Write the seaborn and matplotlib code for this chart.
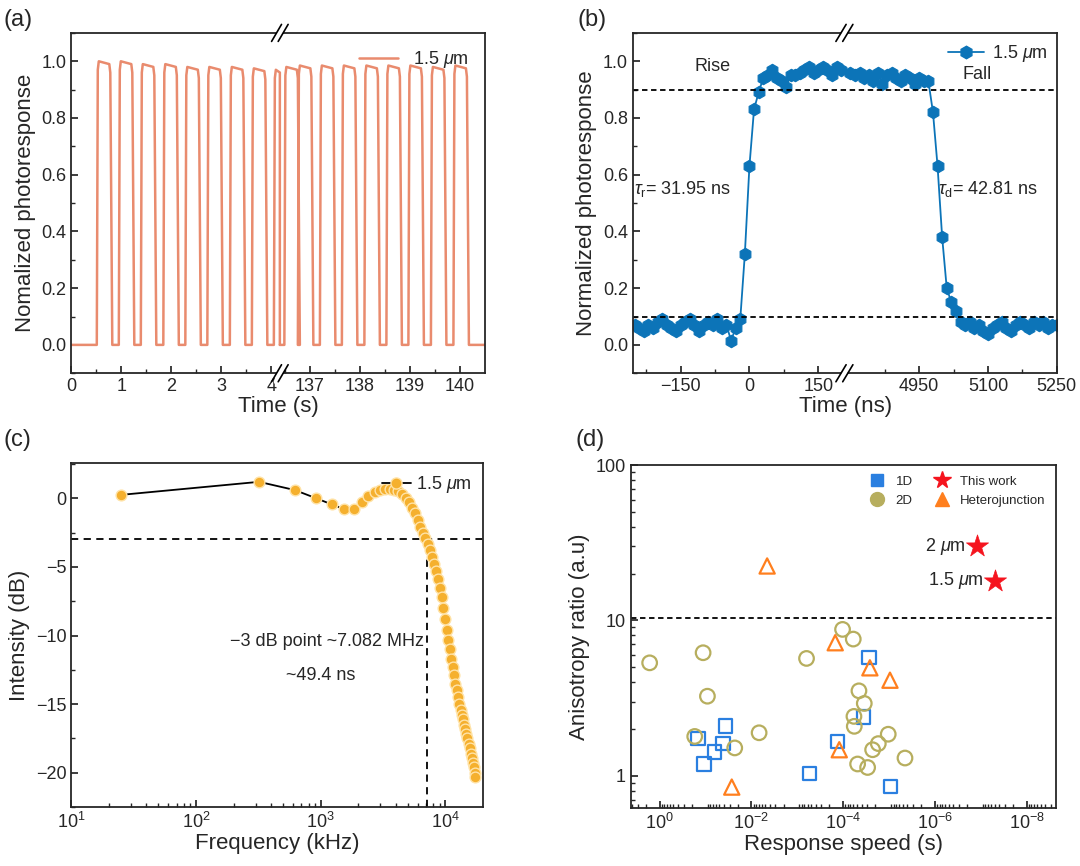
import numpy as np
import pandas as pd
import matplotlib
matplotlib.use("Agg")
import matplotlib.pyplot as plt
import seaborn as sns
from matplotlib.lines import Line2D
from matplotlib.ticker import MultipleLocator, FixedLocator, NullFormatter, LogLocator

# ---------------- data ----------------
# (a) square-wave pulses: start time (s) and amplitude
pulse_start_left = [0.51, 0.95, 1.39, 1.84, 2.28, 2.72, 3.17, 3.61, 4.05]
pulse_amp_left = [1.0, 1.0, 0.99, 0.99, 0.98, 0.98, 0.98, 0.975, 0.97]
pulse_start_right = [136.49, 136.76, 137.20, 137.64, 138.09, 138.53, 138.97, 139.42, 139.87]
pulse_amp_right = [0.98, 0.985, 0.985, 0.985, 0.985, 0.985, 0.985, 0.98, 0.985]

# (b) rise / fall trace
t_left = list(range(-250, 210, 10))
v_left = [0.07, 0.06, 0.05, 0.07, 0.06, 0.08, 0.09, 0.07, 0.06, 0.05, 0.07, 0.08,
          0.09, 0.07, 0.05, 0.07, 0.08, 0.07, 0.09, 0.06, 0.07, 0.015, 0.06,
          0.09, 0.32, 0.63, 0.83, 0.89, 0.94, 0.95, 0.97, 0.94, 0.93, 0.91, 0.95,
          0.95, 0.96, 0.97, 0.98, 0.96, 0.97, 0.98, 0.97, 0.95, 0.98, 0.97]
t_right = list(range(4800, 5260, 10))
v_right = [0.96, 0.95, 0.96, 0.94, 0.95, 0.93, 0.96, 0.92, 0.95, 0.96, 0.94, 0.93,
           0.95, 0.94, 0.92, 0.94, 0.93, 0.93,
           0.82, 0.63, 0.38, 0.20, 0.15, 0.12, 0.08,
           0.07, 0.08, 0.06, 0.07, 0.05, 0.04, 0.06, 0.07, 0.08, 0.06, 0.05, 0.07,
           0.08, 0.07, 0.06, 0.08, 0.07, 0.08, 0.06, 0.07, 0.07]

# (c) frequency response
freq = [25, 320, 620, 920, 1230, 1550, 1850, 2150,
        2400, 2700, 3000, 3300, 3600, 3900, 4200, 4500, 4800, 5100, 5400, 5700,
        6000, 6300, 6600, 6900, 7200, 7500, 7800, 8100, 8400, 8700, 9000, 9300,
        9600, 9900, 10200, 10500, 10800, 11100, 11400, 11700, 12000, 12300, 12600,
        12900, 13200, 13500, 13800, 14100, 14400, 14700, 15000, 15300, 15600,
        15900, 16200, 16500, 16800, 17100, 17400]
intensity = [0.25, 1.2, 0.6, 0.0, -0.45, -0.8, -0.75, -0.3,
             0.2, 0.45, 0.6, 0.65, 0.65, 0.6, 0.5, 0.3, 0.05, -0.3, -0.7, -1.1,
             -1.6, -2.1, -2.5, -2.9, -3.3, -3.8, -4.3, -4.8, -5.3, -5.9, -6.5, -7.2,
             -8.0, -8.8, -9.6, -10.3, -11.0, -11.7, -12.3, -12.9, -13.5, -14.0, -14.5,
             -15.0, -15.4, -15.8, -16.1, -16.5, -16.8, -17.2, -17.5, -17.9, -18.2,
             -18.6, -18.9, -19.3, -19.6, -20.0, -20.3]

# (d) comparison
x_1d = [10**-0.836, 10**-0.967, 10**-1.2, 10**-1.382, 10**-1.433, 10**-3.273,
        10**-3.876, 10**-4.436, 10**-4.56, 10**-5.033]
y_1d = [1.73, 1.19, 1.42, 1.61, 2.09, 1.03, 1.67, 2.39, 5.77, 0.85]
x_2d = [1.65, 0.113, 0.091, 0.172, 10**-1.636, 10**-2.167, 10**-3.2, 10**-3.985,
        10**-4.218, 10**-4.342, 10**-4.458, 10**-4.233, 10**-4.24, 10**-4.313,
        10**-4.531, 10**-4.64, 10**-4.764, 10**-4.98, 10**-5.345]
y_2d = [5.33, 6.19, 3.25, 1.79, 1.51, 1.89, 5.69, 8.75, 7.58, 3.52, 2.92, 2.41,
        2.08, 1.19, 1.13, 1.47, 1.61, 1.85, 1.30]
x_het = [10**-2.342, 10**-1.571, 10**-3.825, 10**-4.58, 10**-5.018, 10**-3.913]
y_het = [22.4, 0.845, 7.18, 4.95, 4.12, 1.47]
x_this = [10**-6.909, 10**-7.309]
y_this = [29.9, 18.0]
this_labels = ["2 $\\mu$m", "1.5 $\\mu$m"]

# ---------------- style ----------------
sns.set_theme(style="ticks")
plt.rcParams["font.family"] = ["Liberation Sans", "DejaVu Sans"]
plt.rcParams["mathtext.fontset"] = "custom"
plt.rcParams["mathtext.it"] = "Liberation Sans:italic"
plt.rcParams["mathtext.rm"] = "Liberation Sans"
plt.rcParams.update({"xtick.direction": "in", "ytick.direction": "in",
                     "xtick.major.size": 5, "ytick.major.size": 5,
                     "xtick.minor.size": 3, "ytick.minor.size": 3,
                     "xtick.labelsize": 13, "ytick.labelsize": 13,
                     "axes.linewidth": 1.3, "axes.labelsize": 16})

fig = plt.figure(figsize=(10.8, 8.66), dpi=100)
ax_a = fig.add_axes([0.066, 0.569, 0.383, 0.393])
ax_b = fig.add_axes([0.586, 0.569, 0.393, 0.393])
ax_c = fig.add_axes([0.066, 0.068, 0.381, 0.397])
ax_d = fig.add_axes([0.584, 0.067, 0.394, 0.396])


def break_marks(ax, xpos):
    for yy in (0, 1):
        ax.plot([xpos - 0.008, xpos + 0.008], [yy - 0.025, yy + 0.025], transform=ax.transAxes,
                color="white", lw=4, clip_on=False, zorder=5)
        for dx in (-0.008, 0.008):
            ax.plot([xpos + dx - 0.012, xpos + dx + 0.012], [yy - 0.025, yy + 0.025],
                    transform=ax.transAxes, color="black", lw=1.2, clip_on=False, zorder=6)


# ---------------- (a) ----------------
col_a = "#E98B6E"
shift_a = 132.23


def wave(starts, amps, t0, t1):
    ts, vs = [t0], [0.0]
    for s, a in zip(starts, amps):
        ts += [s, s + 0.02, s + 0.04, s + 0.25, s + 0.27, s + 0.31]
        vs += [0.0, a * 0.97, a, a * 0.99, a * 0.96, 0.0]
    ts.append(t1)
    vs.append(0.0)
    return np.array(ts), np.array(vs)


ts, vs = wave(pulse_start_left, pulse_amp_left, 0.0, 4.17)
sns.lineplot(x=np.clip(ts, 0, 4.17), y=vs, ax=ax_a, color=col_a, lw=1.8, sort=False, estimator=None)
ts, vs = wave(pulse_start_right, pulse_amp_right, 136.4, 140.5)
sns.lineplot(x=np.clip(ts, 136.4, 140.5) - shift_a, y=vs, ax=ax_a, color=col_a, lw=1.8,
             sort=False, estimator=None)
ax_a.set_xlim(0, 140.5 - shift_a)
ax_a.set_ylim(-0.1, 1.1)
ticks_a = [0, 1, 2, 3, 4, 137 - shift_a, 138 - shift_a, 139 - shift_a, 140 - shift_a]
ax_a.xaxis.set_major_locator(FixedLocator(ticks_a))
ax_a.set_xticklabels(["0", "1", "2", "3", "4", "137", "138", "139", "140"])
ax_a.xaxis.set_minor_locator(FixedLocator([0.5, 1.5, 2.5, 3.5, 136.5 - shift_a, 137.5 - shift_a,
                                           138.5 - shift_a, 139.5 - shift_a]))
ax_a.yaxis.set_major_locator(MultipleLocator(0.2))
ax_a.yaxis.set_minor_locator(MultipleLocator(0.1))
ax_a.set_xlabel("Time (s)", labelpad=1)
ax_a.set_ylabel("Nomalized photoresponse")
ax_a.legend(handles=[Line2D([], [], color=col_a, lw=1.8)], labels=["1.5 $\\mu$m"],
            loc="upper right", frameon=False, fontsize=13, handlelength=2.2)
break_marks(ax_a, 4.17 / (140.5 - shift_a))

# ---------------- (b) ----------------
col_b = "#0C74B8"
shift_b = 4580
df_b = pd.DataFrame({"t": t_left + [t - shift_b for t in t_right], "v": v_left + v_right})
sns.lineplot(data=df_b.iloc[:len(t_left)], x="t", y="v", ax=ax_b, color=col_b, lw=1.3,
             marker="h", markersize=9, markeredgecolor=col_b, estimator=None)
sns.lineplot(data=df_b.iloc[len(t_left):], x="t", y="v", ax=ax_b, color=col_b, lw=1.3,
             marker="h", markersize=9, markeredgecolor=col_b, estimator=None)
ax_b.set_xlim(-254, 5251 - shift_b)
ax_b.set_ylim(-0.1, 1.1)
ax_b.axhline(0.9, color="black", ls="--", lw=1.3, dashes=(3, 2))
ax_b.axhline(0.1, color="black", ls="--", lw=1.3, dashes=(3, 2))
ax_b.xaxis.set_major_locator(FixedLocator([-150, 0, 150, 4950 - shift_b, 5100 - shift_b, 5250 - shift_b]))
ax_b.set_xticklabels(["\u2212150", "0", "150", "4950", "5100", "5250"])
ax_b.xaxis.set_minor_locator(FixedLocator([-225, -75, 75, 4875 - shift_b, 5025 - shift_b, 5175 - shift_b]))
ax_b.yaxis.set_major_locator(MultipleLocator(0.2))
ax_b.yaxis.set_minor_locator(MultipleLocator(0.1))
ax_b.set_xlabel("Time (ns)", labelpad=1)
ax_b.set_ylabel("Normalized photoresponse")
ax_b.text(-80, 0.95, "Rise", fontsize=13, ha="center", va="bottom")
ax_b.text(5045 - shift_b, 0.925, "Fall", fontsize=13, ha="left", va="bottom")
ax_b.text(-252, 0.55, "$\\tau_{\\mathrm{r}}$= 31.95 ns", fontsize=13, va="center")
ax_b.text(4990 - shift_b, 0.55, "$\\tau_{\\mathrm{d}}$= 42.81 ns", fontsize=13, va="center")
ax_b.legend(handles=[Line2D([], [], color=col_b, lw=1.3, marker="h", markersize=9)],
            labels=["1.5 $\\mu$m"], loc="upper right", frameon=False, fontsize=13,
            handlelength=2.0, borderaxespad=0.15, handletextpad=0.4)
break_marks(ax_b, (207 + 254) / (5251 - shift_b + 254))

# ---------------- (c) ----------------
col_c = "#F5B02E"
df_c = pd.DataFrame({"f": freq, "I": intensity})
sns.lineplot(data=df_c, x="f", y="I", ax=ax_c, color="black", lw=1.3, estimator=None)
sns.scatterplot(data=df_c, x="f", y="I", ax=ax_c, color=col_c, s=60, edgecolor="#FFE3A8",
                linewidth=1.0, zorder=3)
ax_c.set_xscale("log")
ax_c.set_xlim(10, 19900)
ax_c.set_ylim(-22.5, 2.55)
ax_c.axhline(-3, color="black", ls="--", lw=1.3, dashes=(4, 3))
ax_c.plot([7082, 7082], [-22.5, -3], color="black", ls="--", lw=1.3, dashes=(4, 3))
ax_c.yaxis.set_minor_locator(MultipleLocator(2.5))
ax_c.set_yticks([0, -5, -10, -15, -20])
ax_c.set_yticklabels(["0", "\u22125", "\u221210", "\u221215", "\u221220"])
ax_c.xaxis.set_major_locator(LogLocator(base=10, numticks=10))
ax_c.xaxis.set_minor_locator(LogLocator(base=10, subs=np.arange(2, 10), numticks=10))
ax_c.xaxis.set_minor_formatter(NullFormatter())
ax_c.set_xlabel("Frequency (kHz)", labelpad=1)
ax_c.set_ylabel("Intensity (dB)")
ax_c.text(6700, -10.4, "\u22123 dB point ~7.082 MHz", fontsize=13, ha="right", va="center")
ax_c.text(1000, -12.9, "~49.4 ns", fontsize=13, ha="center", va="center")
ax_c.legend(handles=[Line2D([], [], color="black", lw=1.3, marker="o", markersize=8,
                            markerfacecolor=col_c, markeredgecolor="#FFE3A8")],
            labels=["1.5 $\\mu$m"], loc="upper right", frameon=False, fontsize=13,
            handlelength=1.6, borderaxespad=0.2, handletextpad=0.3)

# ---------------- (d) ----------------
c1d, c2d, chet, cstar = "#2A7FE0", "#B7AE5E", "#FF7F1E", "#F5141E"
sns.scatterplot(x=x_1d, y=y_1d, ax=ax_d, marker="s", s=90, facecolor="none",
                edgecolor=c1d, linewidth=1.6)
sns.scatterplot(x=x_2d, y=y_2d, ax=ax_d, marker="o", s=110, facecolor="none",
                edgecolor=c2d, linewidth=1.6)
sns.scatterplot(x=x_het, y=y_het, ax=ax_d, marker="^", s=120, facecolor="none",
                edgecolor=chet, linewidth=1.6)
sns.scatterplot(x=x_this, y=y_this, ax=ax_d, marker="*", s=280, color=cstar,
                edgecolor=cstar, linewidth=0.5, zorder=4)
for xx, yy, lab in zip(x_this, y_this, this_labels):
    ax_d.text(xx * 10**0.25, yy, lab, fontsize=13, ha="right", va="center")
ax_d.set_xscale("log")
ax_d.set_yscale("log")
ax_d.set_xlim(10**0.63, 10**-8.64)
ax_d.set_ylim(0.62, 100)
ax_d.axhline(10.4, color="black", ls="--", lw=1.3, dashes=(3, 2))
ax_d.xaxis.set_major_locator(FixedLocator([1, 1e-2, 1e-4, 1e-6, 1e-8]))
ax_d.xaxis.set_minor_locator(LogLocator(base=10, subs=np.arange(2, 10), numticks=20))
ax_d.xaxis.set_minor_formatter(NullFormatter())
ax_d.yaxis.set_major_locator(FixedLocator([1, 10, 100]))
ax_d.set_yticklabels(["1", "10", "100"])
ax_d.yaxis.set_minor_formatter(NullFormatter())
ax_d.set_xlabel("Response speed (s)", labelpad=1)
ax_d.set_ylabel("Anisotropy ratio (a.u)")
h_d = [Line2D([], [], ls="none", marker="s", color=c1d, markersize=8),
       Line2D([], [], ls="none", marker="o", color=c2d, markersize=10),
       Line2D([], [], ls="none", marker="*", color=cstar, markersize=13),
       Line2D([], [], ls="none", marker="^", color=chet, markersize=10)]
ax_d.legend(handles=h_d, labels=["1D", "2D", "This work", "Heterojunction"], ncol=2,
            loc="upper right", frameon=False, fontsize=9.5, handletextpad=0.4,
            columnspacing=1.2, borderaxespad=0.4)

for ax in (ax_a, ax_b, ax_c, ax_d):
    for sp in ax.spines.values():
        sp.set_visible(True)
    ax.tick_params(which="both", top=False, right=False)

for lab, (x0, y0) in zip(["(a)", "(b)", "(c)", "(d)"],
                         [(0.003, 0.99), (0.535, 0.99), (0.003, 0.505), (0.533, 0.505)]):
    fig.text(x0, y0, lab, fontsize=17, ha="left", va="top")

fig.savefig("out.png", dpi=100)
